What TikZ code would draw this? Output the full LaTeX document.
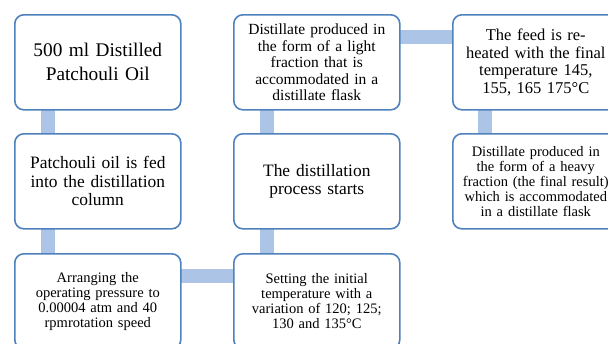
\documentclass[tikz,border=0pt]{standalone}
\usepackage{fontspec}
\setmainfont{Liberation Serif}
\usepackage{xcolor}
\definecolor{boxline}{RGB}{79,129,189}
\definecolor{barblue}{RGB}{172,197,230}
\tikzset{
  box/.style={draw=boxline,line width=1.6pt,rounded corners=9pt,fill=white,
    minimum width=166pt,minimum height=95pt,anchor=north west,
    text width=160pt,align=center,inner sep=0pt},
  bar/.style={draw=barblue,line width=14pt},
  big/.style={font=\fontsize{19.3}{24}\selectfont},
  mid/.style={font=\fontsize{17.4}{18.5}\selectfont},
  reheat/.style={font=\fontsize{16.5}{17.5}\selectfont},
  small/.style={font=\fontsize{15.5}{16.5}\selectfont},
  tiny/.style={font=\fontsize{14.5}{15}\selectfont}
}
\begin{document}
\begin{tikzpicture}[x=1pt,y=-1pt]
\useasboundingbox (0,0) rectangle (608,343);
\clip (0,0) rectangle (608,343);
% connectors
\draw[bar] (48,109) -- (48,133);
\draw[bar] (48,229) -- (48,253);
\draw[bar] (180,276) -- (233,276);
\draw[bar] (266.5,253) -- (266.5,229);
\draw[bar] (266.5,133) -- (266.5,109);
\draw[bar] (398,37) -- (452,37);
\draw[bar] (485,109) -- (485,133);
% boxes
\draw (14,14) node[box,big](oil) {500 ml Distilled\\Patchouli Oil};
\draw (14,133) node[box,mid](feed) {Patchouli oil is fed\\into the distillation\\column};
\draw (14,253) node[box,tiny](pressure) {Arranging the\\operating pressure to\\0.00004 atm and 40\\rpmrotation speed};
\draw (233,253) node[box,tiny](initial) {Setting the initial\\temperature with a\\variation of 120; 125;\\130 and 135\textdegree C};
\draw (233,133) node[box,mid](starts) {The distillation\\process starts};
\draw (233,14) node[box,small](light) {Distillate produced in\\the form of a light\\fraction that is\\accommodated in a\\distillate flask};
\draw (452,14) node[box,reheat](reheat) {The feed is re-\\heated with the final\\temperature 145,\\155, 165 175\textdegree C};
\draw (452,133) node[box,tiny](heavy) {Distillate produced in\\the form of a heavy\\fraction (the final result)\\which is accommodated\\in a distillate flask};
\end{tikzpicture}
\end{document}
